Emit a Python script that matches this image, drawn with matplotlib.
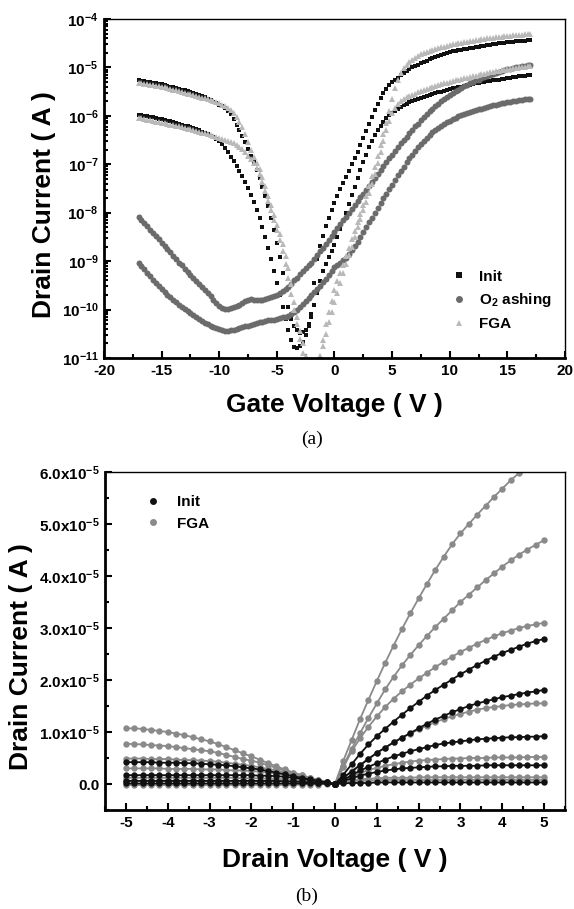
import numpy as np
import matplotlib
matplotlib.use("Agg")
import matplotlib.pyplot as plt
from matplotlib.ticker import FixedLocator, MultipleLocator, LogLocator, NullFormatter, FuncFormatter

plt.rcParams['font.family'] = ['Liberation Sans', 'DejaVu Sans']
plt.rcParams['font.weight'] = 'bold'
plt.rcParams['mathtext.default'] = 'regular'
plt.rcParams['axes.unicode_minus'] = False

# ---------------- (a) transfer curves, log10 of drain current ----------------
# gate sweep -17 V .. 17 V, 0.25 V step
vg = np.arange(-17, 17.01, 0.25)

init_hi = [-5.27, -5.28, -5.29, -5.30, -5.31, -5.32, -5.33, -5.34, -5.35, -5.37, -5.38, -5.40, -5.41,
           -5.43, -5.44, -5.46, -5.47, -5.49, -5.51, -5.53, -5.55, -5.57, -5.60, -5.62, -5.65, -5.68,
           -5.71, -5.74, -5.77, -5.80, -5.84, -5.90, -5.97, -6.07, -6.18, -6.30, -6.42, -6.55, -6.68,
           -6.82, -6.96, -7.12, -7.28, -7.46, -7.66, -7.87, -8.10, -8.35, -8.62, -8.92, -9.25, -9.60,
           -9.95, -10.20, -10.35, -10.43, -10.48, -10.47, -10.42, -10.30, -10.10, -9.45, -8.95, -8.68,
           -8.48, -8.28, -8.10, -7.94, -7.80, -7.66, -7.52, -7.39, -7.26, -7.13, -7.00, -6.87, -6.74,
           -6.60, -6.46, -6.31, -6.16, -6.02, -5.88, -5.75, -5.63, -5.53, -5.44, -5.37, -5.31, -5.26,
           -5.21, -5.16, -5.12, -5.08, -5.04, -5.00, -4.97, -4.94, -4.91, -4.88, -4.86, -4.83, -4.81,
           -4.78, -4.76, -4.74, -4.72, -4.70, -4.69, -4.67, -4.66, -4.64, -4.63, -4.62, -4.61, -4.60,
           -4.59, -4.58, -4.57, -4.56, -4.55, -4.54, -4.53, -4.52, -4.51, -4.50, -4.50, -4.49, -4.48,
           -4.47, -4.47, -4.46, -4.46, -4.45, -4.45, -4.44, -4.44]
init_lo = [-5.98, -5.99, -6.00, -6.01, -6.02, -6.03, -6.05, -6.06, -6.07, -6.08, -6.10, -6.11, -6.13,
           -6.14, -6.16, -6.18, -6.20, -6.22, -6.24, -6.26, -6.28, -6.30, -6.33, -6.35, -6.38, -6.41,
           -6.44, -6.48, -6.52, -6.58, -6.66, -6.75, -6.84, -6.93, -7.03, -7.13, -7.24, -7.37, -7.50,
           -7.64, -7.78, -7.94, -8.10, -8.29, -8.50, -8.72, -8.95, -9.20, -9.45, -9.70, -9.95, -10.20,
           -10.42, -10.62, -10.78, -10.80, -10.76, -10.66, -10.52, -10.35, -10.15, -9.90, -9.65, -9.42,
           -9.20, -9.05, -8.92, -8.80, -8.66, -8.50, -8.34, -8.17, -8.00, -7.82, -7.64, -7.46, -7.28,
           -7.11, -6.95, -6.80, -6.65, -6.52, -6.40, -6.30, -6.20, -6.12, -6.05, -5.99, -5.94, -5.89,
           -5.85, -5.81, -5.78, -5.75, -5.72, -5.70, -5.68, -5.65, -5.63, -5.61, -5.59, -5.57, -5.55,
           -5.53, -5.51, -5.50, -5.48, -5.46, -5.45, -5.43, -5.42, -5.41, -5.40, -5.38, -5.37, -5.36,
           -5.35, -5.33, -5.32, -5.31, -5.30, -5.29, -5.28, -5.27, -5.26, -5.25, -5.24, -5.23, -5.22,
           -5.21, -5.20, -5.19, -5.18, -5.17, -5.17, -5.16, -5.15]
o2_hi = [-8.08, -8.15, -8.22, -8.28, -8.35, -8.42, -8.49, -8.55, -8.62, -8.69, -8.76, -8.82, -8.89,
         -8.96, -9.03, -9.09, -9.16, -9.22, -9.29, -9.35, -9.41, -9.47, -9.53, -9.59, -9.65, -9.72,
         -9.80, -9.86, -9.92, -9.96, -9.98, -9.98, -9.97, -9.95, -9.93, -9.90, -9.87, -9.83, -9.80,
         -9.79, -9.80, -9.80, -9.80, -9.80, -9.79, -9.77, -9.75, -9.73, -9.70, -9.66, -9.62, -9.58,
         -9.53, -9.47, -9.40, -9.34, -9.27, -9.21, -9.15, -9.09, -9.03, -8.96, -8.88, -8.80, -8.72,
         -8.64, -8.56, -8.48, -8.40, -8.32, -8.24, -8.16, -8.08, -8.00, -7.92, -7.84, -7.76, -7.68,
         -7.61, -7.53, -7.45, -7.37, -7.29, -7.20, -7.12, -7.04, -6.96, -6.88, -6.80, -6.72, -6.65,
         -6.57, -6.50, -6.43, -6.36, -6.29, -6.22, -6.16, -6.09, -6.03, -5.97, -5.91, -5.86, -5.80,
         -5.75, -5.70, -5.66, -5.61, -5.57, -5.53, -5.49, -5.46, -5.42, -5.39, -5.36, -5.33, -5.30,
         -5.27, -5.25, -5.22, -5.20, -5.18, -5.15, -5.13, -5.11, -5.09, -5.08, -5.06, -5.04, -5.03,
         -5.02, -5.00, -4.99, -4.98, -4.97, -4.96, -4.95]
o2_lo = [-9.03, -9.10, -9.17, -9.24, -9.31, -9.38, -9.45, -9.51, -9.58, -9.64, -9.70, -9.75, -9.80,
         -9.85, -9.90, -9.95, -9.99, -10.03, -10.07, -10.11, -10.15, -10.19, -10.23, -10.27, -10.30,
         -10.33, -10.36, -10.38, -10.40, -10.42, -10.44, -10.44, -10.43, -10.42, -10.40, -10.38,
         -10.37, -10.35, -10.33, -10.31, -10.30, -10.28, -10.26, -10.25, -10.23, -10.22, -10.21,
         -10.21, -10.20, -10.18, -10.16, -10.15, -10.13, -10.10, -10.06, -10.01, -9.95, -9.89, -9.83,
         -9.77, -9.71, -9.64, -9.58, -9.51, -9.44, -9.36, -9.28, -9.20, -9.12, -9.07, -9.03, -8.98,
         -8.93, -8.86, -8.78, -8.69, -8.60, -8.50, -8.40, -8.30, -8.20, -8.10, -8.00, -7.90, -7.80,
         -7.70, -7.61, -7.51, -7.42, -7.32, -7.23, -7.14, -7.05, -6.96, -6.88, -6.80, -6.72, -6.65,
         -6.58, -6.51, -6.45, -6.40, -6.34, -6.29, -6.25, -6.21, -6.17, -6.13, -6.10, -6.07, -6.04,
         -6.01, -5.98, -5.96, -5.94, -5.92, -5.90, -5.88, -5.86, -5.85, -5.83, -5.81, -5.80, -5.78,
         -5.77, -5.76, -5.74, -5.73, -5.72, -5.71, -5.70, -5.69, -5.68, -5.67, -5.66, -5.66, -5.65]
fga_hi = [-5.32, -5.33, -5.34, -5.35, -5.36, -5.37, -5.38, -5.39, -5.40, -5.41, -5.43, -5.44, -5.46,
          -5.47, -5.49, -5.50, -5.52, -5.54, -5.55, -5.57, -5.59, -5.61, -5.63, -5.64, -5.66, -5.68,
          -5.70, -5.72, -5.74, -5.77, -5.80, -5.84, -5.88, -5.94, -6.02, -6.12, -6.24, -6.38, -6.54,
          -6.70, -6.85, -6.97, -7.10, -7.27, -7.45, -7.65, -7.85, -8.05, -8.25, -8.45, -8.65, -8.90,
          -9.15, -9.48, -9.85, -10.15, -10.45, -10.70, -10.95, -11.20, -11.40, -11.40, -11.25, -10.95,
          -10.62, -10.30, -10.05, -9.82, -9.60, -9.42, -9.25, -9.07, -8.90, -8.72, -8.55, -8.37, -8.20,
          -8.02, -7.85, -7.65, -7.45, -7.25, -7.05, -6.83, -6.60, -6.38, -6.15, -5.90, -5.65, -5.43,
          -5.25, -5.11, -5.01, -4.94, -4.88, -4.84, -4.80, -4.76, -4.73, -4.70, -4.68, -4.66, -4.64,
          -4.62, -4.60, -4.58, -4.57, -4.55, -4.54, -4.52, -4.51, -4.50, -4.49, -4.48, -4.47, -4.46,
          -4.45, -4.44, -4.43, -4.42, -4.41, -4.40, -4.40, -4.39, -4.38, -4.37, -4.37, -4.36, -4.36,
          -4.35, -4.34, -4.34, -4.33, -4.33, -4.32, -4.32, -4.31]
fga_lo = [-6.04, -6.05, -6.06, -6.08, -6.09, -6.10, -6.12, -6.13, -6.14, -6.15, -6.17, -6.18, -6.19,
          -6.21, -6.22, -6.24, -6.25, -6.27, -6.28, -6.30, -6.31, -6.33, -6.35, -6.36, -6.38, -6.40,
          -6.42, -6.43, -6.45, -6.47, -6.49, -6.51, -6.53, -6.56, -6.60, -6.64, -6.69, -6.75, -6.83,
          -6.90, -6.98, -7.08, -7.20, -7.37, -7.55, -7.75, -7.95, -8.15, -8.35, -8.57, -8.80, -9.05,
          -9.35, -9.68, -10.00, -10.30, -10.60, -10.90, -11.20, -11.40, -11.50, -11.40, -11.10, -10.95,
          -10.75, -10.50, -10.25, -10.05, -9.85, -9.65, -9.45, -9.25, -9.05, -8.88, -8.70, -8.50, -8.30,
          -8.12, -7.95, -7.78, -7.60, -7.40, -7.20, -6.97, -6.75, -6.52, -6.30, -6.10, -5.95, -5.84,
          -5.76, -5.70, -5.65, -5.62, -5.59, -5.56, -5.54, -5.51, -5.49, -5.47, -5.45, -5.43, -5.41,
          -5.39, -5.37, -5.35, -5.33, -5.32, -5.30, -5.28, -5.27, -5.25, -5.24, -5.22, -5.21, -5.19,
          -5.18, -5.17, -5.15, -5.14, -5.13, -5.12, -5.10, -5.09, -5.08, -5.07, -5.06, -5.05, -5.04,
          -5.03, -5.02, -5.01, -5.00, -4.99, -4.99, -4.98, -4.97]

# ---------------- (b) output curves, drain current in units of 1e-5 A ----------------
vd_pos = np.arange(0, 5.01, 0.2)
vd_neg = np.arange(-5, 0.01, 0.2)

fga_p1 = [0, 0.45, 0.85, 1.25, 1.62, 1.98, 2.33, 2.66, 2.98, 3.28, 3.57, 3.85, 4.12, 4.37, 4.61, 4.82,
          5.00, 5.18, 5.35, 5.52, 5.68, 5.84, 5.98, 6.12, 6.25, 6.37]
fga_p2 = [0, 0.35, 0.68, 0.98, 1.27, 1.55, 1.82, 2.06, 2.28, 2.48, 2.67, 2.85, 3.02, 3.18, 3.34, 3.50,
          3.64, 3.78, 3.92, 4.05, 4.18, 4.30, 4.41, 4.51, 4.60, 4.69]
fga_p3 = [0, 0.32, 0.63, 0.88, 1.10, 1.30, 1.48, 1.64, 1.78, 1.91, 2.03, 2.14, 2.25, 2.35, 2.45, 2.54,
          2.62, 2.70, 2.77, 2.84, 2.90, 2.95, 3.00, 3.04, 3.07, 3.10]
fga_p4 = [0, 0.12, 0.25, 0.37, 0.49, 0.60, 0.70, 0.80, 0.89, 0.97, 1.05, 1.12, 1.19, 1.25, 1.30, 1.35,
          1.39, 1.43, 1.46, 1.48, 1.50, 1.52, 1.53, 1.54, 1.55, 1.55]
fga_p5 = [0, 0.08, 0.15, 0.21, 0.27, 0.31, 0.35, 0.38, 0.41, 0.43, 0.45, 0.46, 0.47, 0.48, 0.49, 0.49,
          0.50, 0.50, 0.50, 0.51, 0.51, 0.51, 0.51, 0.52, 0.52, 0.52]
fga_p6 = [0, 0.04, 0.07, 0.09, 0.10, 0.11, 0.12, 0.12, 0.12, 0.12, 0.13, 0.13, 0.13, 0.13, 0.13, 0.13,
          0.13, 0.13, 0.13, 0.13, 0.13, 0.13, 0.13, 0.13, 0.13, 0.13]
fga_p7 = [0, 0.03, 0.05, 0.06, 0.07, 0.07, 0.08, 0.08, 0.08, 0.08, 0.08, 0.08, 0.08, 0.08, 0.08, 0.08,
          0.08, 0.08, 0.08, 0.08, 0.08, 0.08, 0.08, 0.08, 0.08, 0.08]
init_p1 = [0, 0.18, 0.38, 0.58, 0.76, 0.92, 1.06, 1.20, 1.33, 1.46, 1.58, 1.70, 1.81, 1.91, 2.01, 2.11,
           2.20, 2.29, 2.37, 2.45, 2.52, 2.58, 2.64, 2.70, 2.75, 2.79]
init_p2 = [0, 0.12, 0.24, 0.36, 0.48, 0.60, 0.70, 0.80, 0.89, 0.98, 1.07, 1.16, 1.24, 1.31, 1.38, 1.44,
           1.50, 1.55, 1.59, 1.63, 1.67, 1.70, 1.73, 1.76, 1.78, 1.81]
init_p3 = [0, 0.08, 0.17, 0.26, 0.33, 0.40, 0.47, 0.53, 0.58, 0.63, 0.67, 0.71, 0.75, 0.78, 0.80, 0.82,
           0.84, 0.86, 0.87, 0.88, 0.89, 0.90, 0.90, 0.91, 0.91, 0.92]
init_p4 = [0, 0.06, 0.11, 0.16, 0.20, 0.23, 0.26, 0.28, 0.30, 0.31, 0.32, 0.33, 0.34, 0.34, 0.35, 0.35,
           0.35, 0.35, 0.36, 0.36, 0.36, 0.36, 0.36, 0.36, 0.36, 0.36]
init_p5 = [0, 0.01, 0.02, 0.02, 0.02, 0.03, 0.03, 0.03, 0.03, 0.03, 0.03, 0.03, 0.03, 0.03, 0.03, 0.03,
           0.03, 0.03, 0.03, 0.03, 0.03, 0.03, 0.03, 0.03, 0.03, 0.03]

fga_n1 = [1.07, 1.07, 1.06, 1.04, 1.02, 1.00, 0.97, 0.94, 0.90, 0.86, 0.82, 0.77, 0.71, 0.65, 0.59, 0.53,
          0.47, 0.40, 0.34, 0.28, 0.22, 0.17, 0.12, 0.08, 0.04, 0]
fga_n2 = [0.77, 0.77, 0.76, 0.75, 0.74, 0.73, 0.71, 0.69, 0.67, 0.65, 0.63, 0.60, 0.56, 0.52, 0.48, 0.45,
          0.41, 0.36, 0.31, 0.26, 0.22, 0.17, 0.12, 0.08, 0.04, 0]
fga_n3 = [0.49, 0.49, 0.49, 0.48, 0.48, 0.48, 0.47, 0.46, 0.46, 0.45, 0.44, 0.43, 0.41, 0.39, 0.37, 0.35,
          0.32, 0.29, 0.26, 0.23, 0.19, 0.15, 0.11, 0.07, 0.04, 0]
fga_n4 = [0.30, 0.30, 0.30, 0.30, 0.30, 0.29, 0.29, 0.29, 0.29, 0.28, 0.28, 0.28, 0.27, 0.26, 0.26, 0.25,
          0.24, 0.22, 0.20, 0.18, 0.15, 0.12, 0.09, 0.06, 0.03, 0]
fga_n5 = [0.12, 0.12, 0.12, 0.12, 0.12, 0.12, 0.12, 0.12, 0.12, 0.12, 0.12, 0.12, 0.12, 0.12, 0.11, 0.11,
          0.11, 0.10, 0.10, 0.09, 0.08, 0.07, 0.05, 0.04, 0.02, 0]
fga_n6 = [0.06, 0.06, 0.06, 0.06, 0.06, 0.06, 0.06, 0.06, 0.06, 0.06, 0.06, 0.06, 0.06, 0.06, 0.06, 0.06,
          0.06, 0.06, 0.06, 0.05, 0.05, 0.04, 0.03, 0.02, 0.01, 0]
fga_n7 = [-0.02, -0.02, -0.02, -0.02, -0.02, -0.02, -0.02, -0.02, -0.02, -0.02, -0.02, -0.02, -0.02,
          -0.02, -0.02, -0.02, -0.02, -0.02, -0.02, -0.02, -0.02, -0.01, -0.01, -0.01, 0, 0]
init_n1 = [0.42, 0.42, 0.42, 0.42, 0.41, 0.41, 0.41, 0.40, 0.40, 0.39, 0.38, 0.37, 0.36, 0.34, 0.32, 0.30,
           0.28, 0.25, 0.22, 0.19, 0.15, 0.12, 0.09, 0.06, 0.03, 0]
init_n2 = [0.17, 0.17, 0.17, 0.17, 0.17, 0.17, 0.17, 0.17, 0.17, 0.17, 0.17, 0.17, 0.17, 0.17, 0.17, 0.17,
           0.16, 0.16, 0.15, 0.14, 0.12, 0.10, 0.08, 0.05, 0.03, 0]
init_n3 = [0.06, 0.06, 0.06, 0.06, 0.06, 0.06, 0.06, 0.06, 0.06, 0.06, 0.06, 0.06, 0.06, 0.06, 0.06, 0.06,
           0.06, 0.06, 0.06, 0.05, 0.05, 0.04, 0.03, 0.02, 0.01, 0]
init_n4 = [0.01, 0.01, 0.01, 0.01, 0.01, 0.01, 0.01, 0.01, 0.01, 0.01, 0.01, 0.01, 0.01, 0.01, 0.01, 0.01,
           0.01, 0.01, 0.01, 0.01, 0.01, 0.01, 0.01, 0.01, 0.01, 0]

BLACK = '#111111'
O2_GRAY = '#6b6b6b'
FGA_LIGHT = '#b9b9b9'
FGA_GRAY = '#8a8a8a'


def style_axes(ax):
    for s in ['left', 'bottom']:
        ax.spines[s].set_linewidth(2.0)
    for s in ['top', 'right']:
        ax.spines[s].set_linewidth(1.0)
    ax.tick_params(which='both', direction='in', top=False, right=False, width=1.5,
                   labelsize=11, pad=4)
    ax.tick_params(which='major', length=5)
    ax.tick_params(which='minor', length=3)


fig = plt.figure(figsize=(5.74, 9.09), dpi=100)

# ---- (a)
ax1 = fig.add_axes([0.1812, 0.6062, 0.8031, 0.3729])
for vals in [init_hi, init_lo]:
    ax1.plot(vg, 10 ** np.array(vals), ls='none', marker='s', ms=3.0, mew=0, color=BLACK)
for vals in [o2_hi, o2_lo]:
    ax1.plot(vg, 10 ** np.array(vals), ls='none', marker='o', ms=4.3, mew=0, color=O2_GRAY)
for vals in [fga_hi, fga_lo]:
    ax1.plot(vg, 10 ** np.array(vals), ls='none', marker='^', ms=4.0, mew=0, color=FGA_LIGHT)

ax1.set_yscale('log')
ax1.set_xlim(-20, 20)
ax1.set_ylim(1e-11, 1e-4)
ax1.xaxis.set_major_locator(MultipleLocator(5))
ax1.xaxis.set_minor_locator(MultipleLocator(2.5))
ax1.yaxis.set_major_locator(FixedLocator([10.0 ** k for k in range(-11, -3)]))
ax1.yaxis.set_major_formatter(FuncFormatter(lambda v, p: r'$10^{%d}$' % round(np.log10(v))))
ax1.yaxis.set_minor_locator(LogLocator(base=10, subs=np.arange(2, 10), numticks=20))
ax1.yaxis.set_minor_formatter(NullFormatter())
style_axes(ax1)

h1 = ax1.plot([], [], ls='none', marker='s', ms=4.5, mew=0, color=BLACK)[0]
h2 = ax1.plot([], [], ls='none', marker='o', ms=5.0, mew=0, color=O2_GRAY)[0]
h3 = ax1.plot([], [], ls='none', marker='^', ms=5.0, mew=0, color=FGA_LIGHT)[0]
ax1.legend([h1, h2, h3], ['Init', r'O$_2$ ashing', 'FGA'], loc='upper left',
           bbox_to_anchor=(0.753, 0.26), frameon=False, fontsize=11, borderpad=0,
           borderaxespad=0, handlelength=1.0, handletextpad=0.8, labelspacing=0.5)

fig.text(0.5828, 1 - 405 / 909, 'Gate Voltage ( V )', ha='center', va='center',
         fontsize=19, fontweight='bold')
fig.text(0.0767, 1 - 205 / 909, 'Drain Current ( A )', ha='center', va='center',
         rotation=90, fontsize=19, fontweight='bold')
fig.text(312 / 574, 1 - 439 / 909, '(a)', ha='center', va='center', fontsize=14,
         fontweight='normal', family='Liberation Serif')

# ---- (b)
ax2 = fig.add_axes([0.1829, 0.1089, 0.8014, 0.3718])
for vals in [fga_p1, fga_p2, fga_p3, fga_p4, fga_p5, fga_p6, fga_p7]:
    ax2.plot(vd_pos, np.array(vals) * 1e-5, ls='-', lw=1.3, marker='o', ms=4.6, mew=0, color=FGA_GRAY)
for vals in [fga_n1, fga_n2, fga_n3, fga_n4, fga_n5, fga_n6, fga_n7]:
    ax2.plot(vd_neg, np.array(vals) * 1e-5, ls='-', lw=1.3, marker='o', ms=4.6, mew=0, color=FGA_GRAY)
for vals in [init_p1, init_p2, init_p3, init_p4, init_p5]:
    ax2.plot(vd_pos, np.array(vals) * 1e-5, ls='-', lw=1.3, marker='o', ms=4.6, mew=0, color=BLACK)
for vals in [init_n1, init_n2, init_n3, init_n4]:
    ax2.plot(vd_neg, np.array(vals) * 1e-5, ls='-', lw=1.3, marker='o', ms=4.6, mew=0, color=BLACK)

ax2.set_xlim(-5.5, 5.5)
ax2.set_ylim(-0.5e-5, 6.0e-5)
ax2.xaxis.set_major_locator(MultipleLocator(1))
ax2.xaxis.set_minor_locator(MultipleLocator(0.5))
ax2.yaxis.set_major_locator(MultipleLocator(1e-5))
ax2.yaxis.set_minor_locator(MultipleLocator(0.5e-5))


def fmt_b(v, p):
    n = v / 1e-5
    if abs(n) < 1e-9:
        return '0.0'
    return r'$%.1fx10^{-5}$' % n


ax2.yaxis.set_major_formatter(FuncFormatter(fmt_b))
ax2.xaxis.set_major_formatter(FuncFormatter(lambda v, p: '%d' % round(v)))
style_axes(ax2)

g1 = ax2.plot([], [], ls='none', marker='o', ms=5.0, mew=0, color=BLACK)[0]
g2 = ax2.plot([], [], ls='none', marker='o', ms=5.0, mew=0, color=FGA_GRAY)[0]
ax2.legend([g1, g2], ['Init', 'FGA'], loc='upper left', bbox_to_anchor=(0.087, 0.932),
           frameon=False, fontsize=11, borderpad=0, borderaxespad=0, handlelength=1.0,
           handletextpad=1.1, labelspacing=0.5)

fig.text(335 / 574, 1 - 860 / 909, 'Drain Voltage ( V )', ha='center', va='center',
         fontsize=19, fontweight='bold')
fig.text(0.036, 1 - 657 / 909, 'Drain Current ( A )', ha='center', va='center',
         rotation=90, fontsize=19, fontweight='bold')
fig.text(307 / 574, 1 - 896 / 909, '(b)', ha='center', va='center', fontsize=14,
         fontweight='normal', family='Liberation Serif')

fig.savefig('out.png', dpi=100)
